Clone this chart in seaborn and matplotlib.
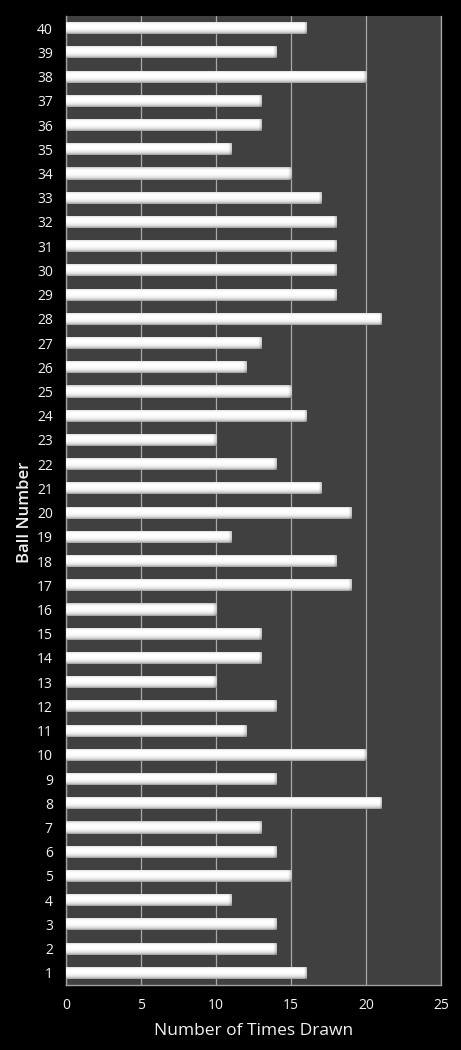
import numpy as np
import pandas as pd
import matplotlib
matplotlib.use("Agg")
import matplotlib.pyplot as plt
import seaborn as sns

balls = list(range(1, 41))
times_drawn = [16, 14, 14, 11, 15, 14, 13, 21, 14, 20,
               12, 14, 10, 13, 13, 10, 19, 18, 11, 19,
               17, 14, 10, 16, 15, 12, 13, 21, 18, 18,
               18, 18, 17, 15, 11, 13, 13, 20, 14, 16]
x_ticks = [0, 5, 10, 15, 20, 25]

df = pd.DataFrame({"Ball": [str(b) for b in balls], "Times": times_drawn})
order = [str(b) for b in reversed(balls)]

sns.set_theme(style="dark")
plt.rcParams['font.family'] = ['Open Sans', 'DejaVu Sans']

fig = plt.figure(figsize=(4.61, 10.5), dpi=100, facecolor="black")
ax = fig.add_axes([66/461, 1-985/1050, (441-66)/461, (985-16)/1050])
ax.set_facecolor("#404040")

sns.barplot(data=df, x="Times", y="Ball", order=order, orient="h",
            color="white", width=0.5, ax=ax, edgecolor="none", saturation=1)

# cylinder-like gradient for each bar
rows = np.array([0.82, 0.92, 0.98, 1.0, 1.0, 1.0, 0.99, 0.97, 0.94, 0.88, 0.80, 0.66])
for p in ax.patches:
    x0, y0 = p.get_x(), p.get_y()
    w, h = p.get_width(), p.get_height()
    ncol = 200
    img = np.tile(rows[:, None], (1, ncol))
    bevel = max(1, int(ncol * 0.3 / max(w, 0.1)))
    fade = np.linspace(1.0, 0.80, bevel)
    img[:, -bevel:] *= fade[None, :]
    rgb = np.dstack([img, img, img])
    im = ax.imshow(rgb, extent=[x0, x0 + w, y0 + h, y0], origin="upper",
                   aspect="auto", interpolation="bilinear", zorder=3)
    im.set_clip_path(p)
    p.set_facecolor("#b0b0b0")

ax.set_xlim(0, 25)
ax.set_ylim(39.5, -0.5)
ax.set_xticks(x_ticks)
ax.xaxis.grid(True, color="#a8a8a8", linewidth=0.9)
ax.yaxis.grid(False)
ax.set_axisbelow(True)

ax.spines["top"].set_visible(False)
ax.spines["right"].set_visible(True)
ax.spines["right"].set_color("#a8a8a8")
ax.spines["right"].set_linewidth(0.9)
ax.spines["left"].set_color("#a0a0a0")
ax.spines["bottom"].set_color("#a0a0a0")
ax.spines["left"].set_linewidth(1.0)
ax.spines["bottom"].set_linewidth(1.0)

ax.tick_params(axis="both", length=0, colors="#f2f2f2", labelsize=10)
ax.tick_params(axis="y", pad=9.5)
ax.tick_params(axis="x", pad=9.5)

ax.set_xlabel("Number of Times Drawn", color="#f2f2f2", fontsize=12.5, labelpad=7)
ax.set_ylabel("Ball Number", color="#f2f2f2", fontsize=12, fontweight="semibold", labelpad=3)
ax.yaxis.label.set_y(0.488)

fig.savefig("out.png", dpi=100, facecolor="black")
